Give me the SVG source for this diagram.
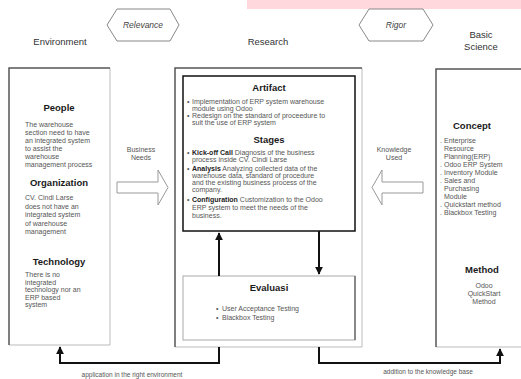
<svg xmlns="http://www.w3.org/2000/svg" width="521" height="379" viewBox="0 0 521 379">
  <style>
    text { font-family: "Liberation Sans", Arial, sans-serif; fill: #333; }
    .head { font-size: 9.5px; fill: #333; }
    .tag { font-size: 8.5px; font-style: italic; fill: #444; }
    .title { font-size: 9.5px; font-weight: bold; fill: #1a1a1a; }
    .body { font-size: 7px; fill: #555; }
    .b { font-weight: bold; fill: #222; }
    .foot { font-size: 6.5px; fill: #555; }
    .edge-dark { stroke: #555; stroke-width: 1.5; fill: none; }
    .edge-light { stroke: #bbb; stroke-width: 1; fill: none; }
    .hex { fill: #fff; stroke: #888; stroke-width: 1; }
    .bigarrow { fill: #fff; stroke: #999; stroke-width: 1; }
    .conn { stroke: #111; stroke-width: 2; fill: none; }
  </style>
  <defs>
    <marker id="head" viewBox="0 0 10 10" refX="9" refY="5" markerWidth="4" markerHeight="4" orient="auto" markerUnits="strokeWidth">
      <path d="M0,0 L10,5 L0,10 z" fill="#111"/>
    </marker>
  </defs>

  <rect x="247" y="0" width="274" height="9" fill="#ffd8dd"/>

  <!-- column headings and tags -->
  <g id="headings">
    <text class="head" x="60" y="45" text-anchor="middle">Environment</text>
    <text class="head" x="268" y="45" text-anchor="middle">Research</text>
    <text class="head" x="481" y="38" text-anchor="middle">Basic</text>
    <text class="head" x="481" y="50" text-anchor="middle">Science</text>
  </g>
  <g id="relevance">
    <polygon class="hex" points="107,25 117,9 170,9 179,25 170,41 117,41"/>
    <text class="tag" x="143" y="28" text-anchor="middle">Relevance</text>
  </g>
  <g id="rigor">
    <polygon class="hex" points="359,25 369,9 423,9 433,25 423,41 369,41"/>
    <text class="tag" x="396" y="28" text-anchor="middle">Rigor</text>
  </g>

  <!-- Environment -->
  <g id="environment">
    <rect x="9" y="68" width="101" height="277" fill="#fff"/>
    <path class="edge-light" d="M110,68 V345 H9"/>
    <path class="edge-dark" d="M9,345 V68 H110"/>
    <text class="title" x="59" y="111" text-anchor="middle">People</text>
    <text class="body" x="25" y="127">The warehouse</text>
    <text class="body" x="25" y="135">section need to have</text>
    <text class="body" x="25" y="143">an integrated system</text>
    <text class="body" x="25" y="151">to assist the</text>
    <text class="body" x="25" y="159">warehouse</text>
    <text class="body" x="25" y="167">management process</text>
    <text class="title" x="59" y="186" text-anchor="middle">Organization</text>
    <text class="body" x="25" y="200">CV. Cindi Larse</text>
    <text class="body" x="25" y="208.5">does not have an</text>
    <text class="body" x="25" y="217">integrated system</text>
    <text class="body" x="25" y="225.5">of warehouse</text>
    <text class="body" x="25" y="234">management</text>
    <text class="title" x="59" y="265" text-anchor="middle">Technology</text>
    <text class="body" x="25" y="277">There is no</text>
    <text class="body" x="25" y="284.5">integrated</text>
    <text class="body" x="25" y="292">technology nor an</text>
    <text class="body" x="25" y="299.5">ERP based</text>
    <text class="body" x="25" y="307">system</text>
  </g>

  <!-- Research -->
  <g id="research">
    <rect x="175" y="68" width="187" height="279" fill="#fff"/>
    <path class="edge-light" d="M362,68 V347 H175"/>
    <path class="edge-dark" d="M175,347 V68 H362"/>
  </g>
  <g id="artifact">
    <rect x="183" y="76" width="172" height="155" fill="#fff" stroke="#111" stroke-width="1.5"/>
    <text class="title" x="269" y="91" text-anchor="middle">Artifact</text>
    <text class="body" x="187" y="104">•</text>
    <text class="body" x="192" y="104">Implementation of ERP system warehouse</text>
    <text class="body" x="192" y="111">module using Odoo</text>
    <text class="body" x="187" y="118">•</text>
    <text class="body" x="192" y="118">Redesign on the standard of proceedure to</text>
    <text class="body" x="192" y="125">suit the use of ERP system</text>
    <text class="title" x="269" y="143" text-anchor="middle">Stages</text>
    <text class="body" x="187" y="155">•</text>
    <text class="body" x="192" y="155"><tspan class="b">Kick-off Call</tspan> Diagnosis of the business</text>
    <text class="body" x="192" y="162">process inside CV. Cindi Larse</text>
    <text class="body" x="187" y="171">•</text>
    <text class="body" x="192" y="171"><tspan class="b">Analysis</tspan> Analyzing collected data of the</text>
    <text class="body" x="192" y="178">warehouse data, standard of procedure</text>
    <text class="body" x="192" y="185">and the existing business process of the</text>
    <text class="body" x="192" y="192">company.</text>
    <text class="body" x="187" y="202">•</text>
    <text class="body" x="192" y="202"><tspan class="b">Configuration</tspan> Customization to the Odoo</text>
    <text class="body" x="192" y="210">ERP system to meet the needs of the</text>
    <text class="body" x="192" y="218">business.</text>
  </g>
  <g id="evaluasi">
    <rect x="183" y="276" width="172" height="64" fill="#fff" stroke="#aaa" stroke-width="1"/>
    <path d="M355,276 V340" stroke="#555" stroke-width="1.2" fill="none"/>
    <text class="title" x="269" y="291" text-anchor="middle">Evaluasi</text>
    <text class="body" x="216" y="311">•</text>
    <text class="body" x="222" y="311">User Acceptance Testing</text>
    <text class="body" x="216" y="320">•</text>
    <text class="body" x="222" y="320">Blackbox Testing</text>
  </g>

  <!-- Basic Science -->
  <g id="basic-science">
    <rect x="436" y="69" width="90" height="278" fill="#fff"/>
    <path class="edge-light" d="M436,347 H521"/>
    <path class="edge-dark" d="M436,347 V69 H521"/>
    <text class="title" x="472" y="129" text-anchor="middle">Concept</text>
    <text class="body" x="440" y="143">.</text>
    <text class="body" x="444" y="143">Enterprise</text>
    <text class="body" x="444" y="151">Resource</text>
    <text class="body" x="444" y="159">Planning(ERP)</text>
    <text class="body" x="440" y="167">.</text>
    <text class="body" x="444" y="167">Odoo ERP System</text>
    <text class="body" x="440" y="175">.</text>
    <text class="body" x="444" y="175">Inventory Module</text>
    <text class="body" x="440" y="183">.</text>
    <text class="body" x="444" y="183">Sales and</text>
    <text class="body" x="444" y="191">Purchasing</text>
    <text class="body" x="444" y="199">Module</text>
    <text class="body" x="440" y="207">.</text>
    <text class="body" x="444" y="207">Quickstart method</text>
    <text class="body" x="440" y="215">.</text>
    <text class="body" x="444" y="215">Blackbox Testing</text>
    <text class="title" x="482" y="273" text-anchor="middle">Method</text>
    <text class="body" x="484" y="288" text-anchor="middle">Odoo</text>
    <text class="body" x="484" y="296" text-anchor="middle">QuickStart</text>
    <text class="body" x="484" y="304" text-anchor="middle">Method</text>
  </g>

  <!-- connectors -->
  <g id="connectors">
    <polygon class="bigarrow" points="117,182 158,182 158,170 168,187.5 158,205 158,193 117,193"/>
    <text class="body" x="141" y="152" text-anchor="middle">Business</text>
    <text class="body" x="141" y="160" text-anchor="middle">Needs</text>
    <polygon class="bigarrow" points="423,182 382,182 382,170 372,187.5 382,205 382,193 423,193"/>
    <text class="body" x="394" y="152" text-anchor="middle">Knowledge</text>
    <text class="body" x="394" y="160" text-anchor="middle">Used</text>

    <line class="conn" x1="219" y1="276" x2="219" y2="233" marker-end="url(#head)"/>
    <line class="conn" x1="319" y1="231" x2="319" y2="274" stroke-width="1.5" marker-end="url(#head)"/>

    <path class="conn" d="M219,347 V363 H60 V347" marker-end="url(#head)"/>
    <path class="conn" d="M319,347 V363 H500 V349" marker-end="url(#head)"/>
    <text class="foot" x="132" y="377" text-anchor="middle">application in the right environment</text>
    <text class="foot" x="428" y="374" text-anchor="middle">addition to the knowledge base</text>
  </g>
</svg>
